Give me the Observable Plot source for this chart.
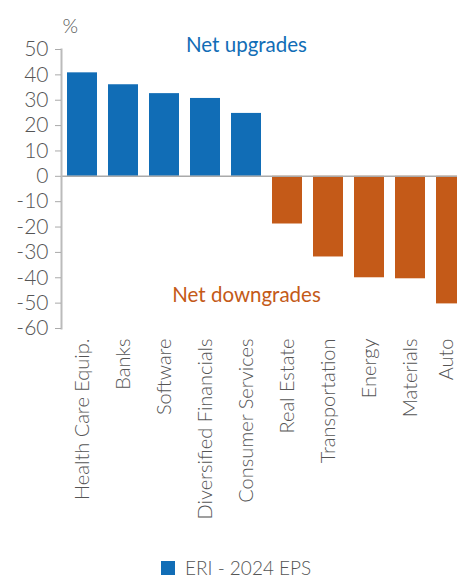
<!DOCTYPE html>
<html>
<head>
<meta charset="utf-8">
<script src="https://cdn.jsdelivr.net/npm/d3@7"></script>
<script src="https://cdn.jsdelivr.net/npm/@observablehq/plot@0.6"></script>
<style>
  html, body { margin: 0; padding: 0; background: #fff; }
  body { width: 457px; height: 584px; overflow: hidden; position: relative; font-family: Lato, "Open Sans", sans-serif; }
  #chart { width: 457px; overflow: hidden; }
  #chart svg { display: block; max-width: none !important; }
  #legend { position: absolute; left: 161px; top: 556px; display: flex; align-items: center; gap: 10px;
            font-family: Lato, sans-serif; font-weight: 300; font-size: 19px; color: #555; white-space: nowrap; }
  #legend .sw { width: 14px; height: 14px; background: #116db6; }
</style>
</head>
<body>
<div id="chart"></div>
<div id="legend"><span class="sw"></span><span id="legend-text"></span></div>
<script>
const categories = ["Health Care Equip.", "Banks", "Software", "Diversified Financials", "Consumer Services",
                    "Real Estate", "Transportation", "Energy", "Materials", "Auto"];
const values = [40.8, 36.1, 32.6, 30.7, 24.8, -18.8, -31.8, -40.0, -40.4, -50.3];
const seriesName = "ERI - 2024 EPS";
const yTicks = [50, 40, 30, 20, 10, 0, -10, -20, -30, -40, -50, -60];
const yUnit = "%";
const annoLabels = ["Net upgrades", "Net downgrades"];
const annoCategory = ["Consumer Services", "Consumer Services"];
const annoValues = [51.6, -47.0];

const BLUE = "#116db6", ORANGE = "#c45a18";
const data = categories.map((c, i) => ({category: c, value: values[i]}));
const annos = annoLabels.map((t, i) => ({label: t, category: annoCategory[i], value: annoValues[i], color: i === 0 ? BLUE : ORANGE}));

document.getElementById("legend-text").textContent = seriesName;

const xAxisStyle = {tickRotate: -90, tickSize: 0, tickPadding: 10, fill: "#555", fontSize: 20, fontWeight: 300, label: null};

const plot = Plot.plot({
  width: 471,
  height: 550,
  marginLeft: 61,
  marginRight: 0,
  marginTop: 49,
  marginBottom: 222,
  style: {fontFamily: "Lato, sans-serif", color: "#555", background: "#fff", maxWidth: "none"},
  x: {domain: categories, paddingInner: 0.27, paddingOuter: 0.135, label: null},
  y: {domain: [-60, 50], label: null},
  marks: [
    Plot.barY(data, {x: "category", y: "value", fill: d => d.value >= 0 ? BLUE : ORANGE}),
    Plot.ruleY([0], {stroke: "#aaa", strokeWidth: 1.5}),
    Plot.frame({anchor: "left", stroke: "#bbb", strokeWidth: 2}),
    Plot.axisY({ticks: yTicks, tickFormat: d => String(d), tickSize: 6, tickPadding: 7,
                stroke: "#aaa", fill: "#555", fontSize: 21, fontWeight: 300, label: null}),
    Plot.axisX({...xAxisStyle, ticks: categories.slice(0, -1)}),
    Plot.axisX({...xAxisStyle, ticks: categories.slice(-1), dx: -5}),
    Plot.text([yUnit], {frameAnchor: "top-left", dx: 1, dy: -31, fontSize: 20, fontWeight: 300, fill: "#555"}),
    Plot.text(annos, {x: "category", y: "value", text: "label", fill: "color", fontSize: 20.5, fontWeight: 400, clip: false})
  ]
});
document.getElementById("chart").appendChild(plot);
</script>
</body>
</html>
